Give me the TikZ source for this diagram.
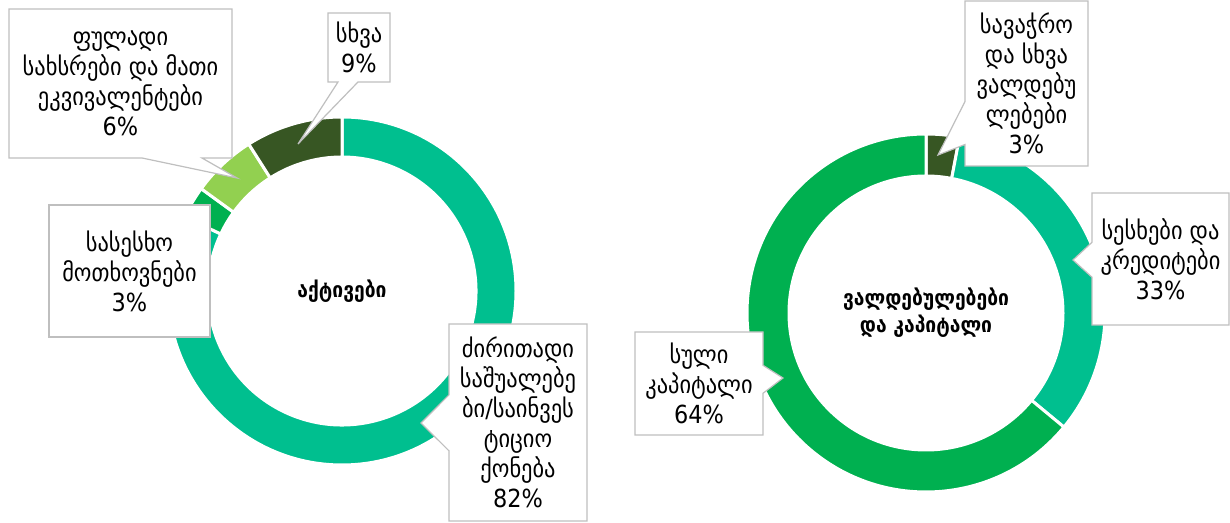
\documentclass[tikz,border=0pt]{standalone}
\usepackage{fontspec}
\setmainfont{DejaVu Sans}[FakeStretch=0.9]
\usetikzlibrary{shapes.callouts}

\definecolor{tealseg}{HTML}{00BF8F}
\definecolor{greenseg}{HTML}{00B050}
\definecolor{limeseg}{HTML}{92D050}
\definecolor{oliveseg}{HTML}{375623}
\definecolor{boxgray}{HTML}{BFBFBF}

\begin{document}
\begin{tikzpicture}[
  x=1bp, y=1bp,
  seg/.style={draw=white,line width=3bp},
  lbl/.style={rectangle callout,draw=boxgray,line width=1.2bp,fill=white,align=center,inner sep=0pt},
  plainlbl/.style={rectangle,draw=boxgray,line width=1.2bp,fill=white,align=center,inner sep=0pt},
  title/.style={align=center,font=\bfseries\fontsize{21.5}{27}\selectfont},
  every node/.append style={font=\fontsize{25}{30}\selectfont}
]
  \useasboundingbox (0,0) rectangle (1230,523);

  % assets ring
  \coordinate (lc) at (342,232);
  \path[seg,fill=tealseg] ([shift={(90:174)}]lc) arc[start angle=90,end angle=-205.2,radius=174]
    -- ([shift={(-205.2:134)}]lc) arc[start angle=-205.2,end angle=90,radius=134] -- cycle;
  \path[seg,fill=greenseg] ([shift={(-205.2:174)}]lc) arc[start angle=-205.2,end angle=-216,radius=174]
    -- ([shift={(-216:134)}]lc) arc[start angle=-216,end angle=-205.2,radius=134] -- cycle;
  \path[seg,fill=limeseg] ([shift={(-216:174)}]lc) arc[start angle=-216,end angle=-237.6,radius=174]
    -- ([shift={(-237.6:134)}]lc) arc[start angle=-237.6,end angle=-216,radius=134] -- cycle;
  \path[seg,fill=oliveseg] ([shift={(-237.6:174)}]lc) arc[start angle=-237.6,end angle=-270,radius=174]
    -- ([shift={(-270:134)}]lc) arc[start angle=-270,end angle=-237.6,radius=134] -- cycle;
  \node[title] (assets) at (lc) {აქტივები};

  % liabilities ring
  \coordinate (rc) at (926,210);
  \path[seg,fill=oliveseg] ([shift={(90:179)}]rc) arc[start angle=90,end angle=79.2,radius=179]
    -- ([shift={(79.2:137)}]rc) arc[start angle=79.2,end angle=90,radius=137] -- cycle;
  \path[seg,fill=tealseg] ([shift={(79.2:179)}]rc) arc[start angle=79.2,end angle=-39.6,radius=179]
    -- ([shift={(-39.6:137)}]rc) arc[start angle=-39.6,end angle=79.2,radius=137] -- cycle;
  \path[seg,fill=greenseg] ([shift={(-39.6:179)}]rc) arc[start angle=-39.6,end angle=-270,radius=179]
    -- ([shift={(-270:137)}]rc) arc[start angle=-270,end angle=-39.6,radius=137] -- cycle;
  \node[title] (liab) at (rc) {ვალდებულებები\\და კაპიტალი};

  % pointer tips
  \coordinate (cashtip) at (237,345);
  \coordinate (othertip) at (298,379);
  \coordinate (fixedtip) at (421,100);
  \coordinate (tradetip) at (938,368);
  \coordinate (loantip) at (1073,263);
  \coordinate (equitytip) at (783,145);

  % labels
  \node[lbl,minimum width=223bp,minimum height=149bp,callout absolute pointer={(cashtip)},callout pointer width=60bp]
    (cash) at (120.5,439.5) {ფულადი\\სახსრები და მათი\\ეკვივალენტები\\6\%};
  \node[lbl,minimum width=62bp,minimum height=69bp,callout absolute pointer={(othertip)},callout pointer width=20bp]
    (other) at (359,475.5) {სხვა\\9\%};
  \node[plainlbl,minimum width=161bp,minimum height=132bp]
    (loansgiven) at (129.5,252) {სასესხო\\მოთხოვნები\\3\%};
  \node[lbl,minimum width=138bp,minimum height=197bp,callout absolute pointer={(fixedtip)},callout pointer width=56bp]
    (fixed) at (518,100.5) {ძირითადი\\საშუალებე\\ბი/საინვეს\\ტიციო\\ქონება\\82\%};
  \node[lbl,minimum width=123bp,minimum height=165bp,callout absolute pointer={(tradetip)},callout pointer width=43bp]
    (trade) at (1026.5,439.5) {სავაჭრო\\და სხვა\\ვალდებუ\\ლებები\\3\%};
  \node[lbl,minimum width=137bp,minimum height=132bp,callout absolute pointer={(loantip)},callout pointer width=35bp]
    (loans) at (1160.5,264) {სესხები და\\კრედიტები\\33\%};
  \node[lbl,minimum width=128bp,minimum height=103bp,callout absolute pointer={(equitytip)},callout pointer width=28bp]
    (equity) at (699,139.5) {სული\\კაპიტალი\\64\%};
\end{tikzpicture}
\end{document}
